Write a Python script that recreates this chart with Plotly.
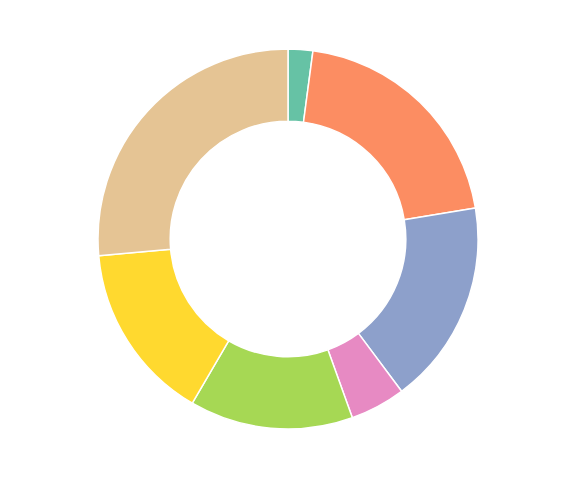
import plotly.graph_objects as go

labels = ["A", "B", "C", "D", "E", "F", "G"]
values = [2.1, 20.3, 17.4, 4.7, 13.9, 15.2, 26.4]
colors = ["#66c2a5", "#fc8d62", "#8da0cb", "#e78ac3", "#a6d854", "#ffd92f", "#e5c494"]

fig = go.Figure(go.Pie(
    labels=labels,
    values=values,
    hole=0.62,
    sort=False,
    direction="clockwise",
    rotation=0,
    textinfo="none",
    marker=dict(colors=colors, line=dict(color="white", width=1.5)),
))
fig.update_layout(
    width=576, height=480,
    showlegend=False,
    margin=dict(l=0, r=16, t=41, b=59),
    paper_bgcolor="white",
)
fig.write_html("out.html")
